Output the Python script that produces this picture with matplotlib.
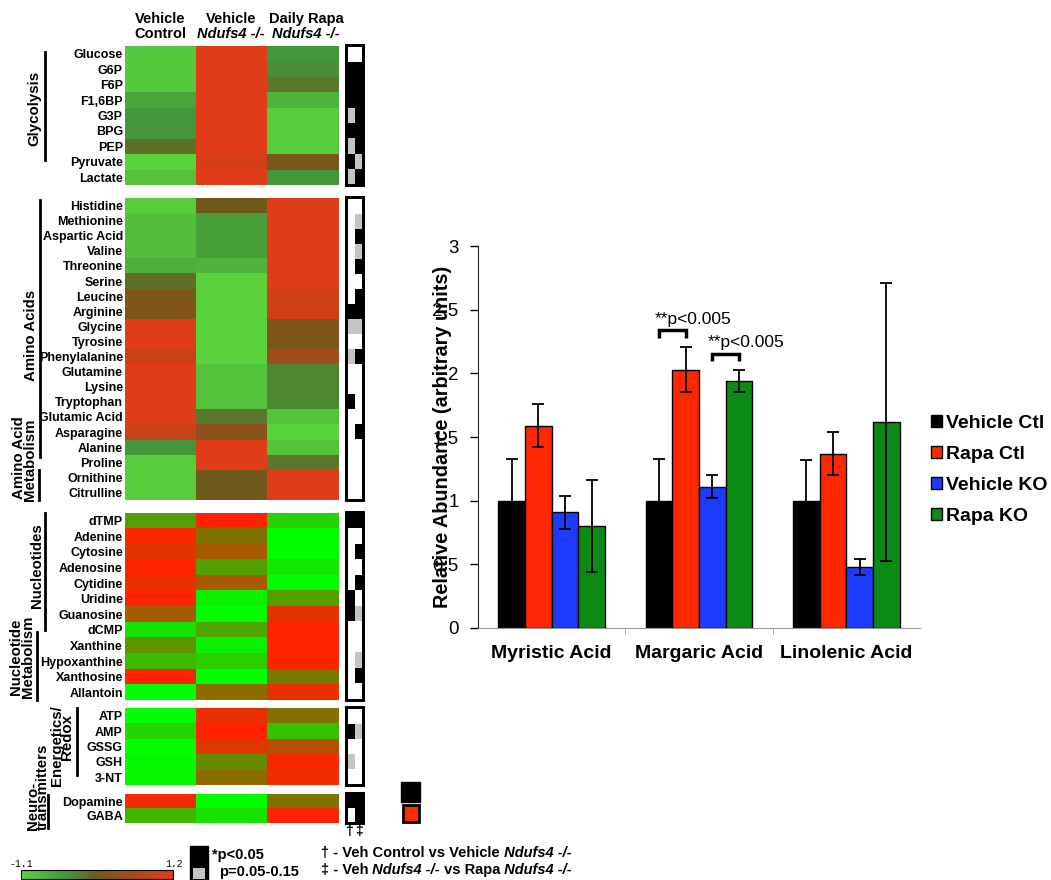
import matplotlib
matplotlib.use('Agg')
import matplotlib.pyplot as plt
import numpy as np
from matplotlib.colors import LinearSegmentedColormap, ListedColormap, Normalize
from matplotlib.cm import ScalarMappable
from matplotlib.patches import Rectangle
from matplotlib.ticker import FuncFormatter

plt.rcParams['font.family'] = ['Liberation Sans', 'DejaVu Sans']

W, H = 1051, 880

# ---- heat map data ----
# columns: Vehicle Control, Vehicle Ndufs4-/-, Daily Rapa Ndufs4-/-
# values: -1 = green (low) ... 0 = mid ... 1 = red (high)
glyc_names = ['Glucose', 'G6P', 'F6P', 'F1,6BP', 'G3P', 'BPG', 'PEP', 'Pyruvate', 'Lactate']
glyc_vals = [[-0.9, 1.0, -0.4], [-0.9, 1.0, -0.35], [-0.9, 1.0, -0.2],
             [-0.55, 1.0, -0.7], [-0.4, 1.0, -0.95], [-0.4, 1.0, -0.95],
             [-0.15, 1.0, -0.95], [-1.0, 0.9, 0.1], [-0.85, 1.0, -0.4]]
# significance: 0 = n.s., 1 = p 0.05-0.15, 2 = p<0.05 ; columns: dagger, double dagger
glyc_sig = [[0, 0], [2, 2], [2, 2], [2, 2], [1, 2], [2, 2], [1, 2], [2, 1], [1, 2]]

amino_names = ['Histidine', 'Methionine', 'Aspartic Acid', 'Valine', 'Threonine', 'Serine',
               'Leucine', 'Arginine', 'Glycine', 'Tyrosine', 'Phenylalanine', 'Glutamine',
               'Lysine', 'Tryptophan', 'Glutamic Acid', 'Asparagine', 'Alanine', 'Proline',
               'Ornithine', 'Citrulline']
amino_vals = [[-0.95, 0.0, 1.0], [-0.8, -0.5, 1.0], [-0.8, -0.5, 1.0], [-0.8, -0.5, 1.0],
              [-0.65, -0.7, 1.0], [-0.15, -1.0, 1.0], [0.15, -1.0, 0.85], [0.15, -1.0, 0.85],
              [1.0, -1.0, 0.15], [1.0, -1.0, 0.1], [0.8, -1.0, 0.45], [1.0, -0.85, -0.3],
              [1.0, -0.85, -0.3], [1.0, -0.85, -0.3], [1.0, -0.2, -0.85], [0.8, 0.25, -1.0],
              [-0.4, 1.0, -0.85], [-0.95, 1.0, -0.2], [-0.95, 0.0, 1.0], [-0.95, 0.0, 1.0]]
amino_sig = [[0, 0], [0, 1], [0, 2], [0, 1], [0, 2], [0, 0], [0, 2], [2, 2], [1, 1], [0, 0],
             [1, 2], [0, 0], [0, 0], [2, 0], [0, 0], [0, 2], [0, 0], [0, 0], [0, 0], [0, 0]]

nuc_names = ['dTMP', 'Adenine', 'Cytosine', 'Adenosine', 'Cytidine', 'Uridine', 'Guanosine',
             'dCMP', 'Xanthine', 'Hypoxanthine', 'Xanthosine', 'Allantoin']
nuc_vals = [[-0.3, 1.0, -0.67], [0.95, 0.05, -1.0], [0.8, 0.35, -1.0], [1.0, -0.3, -0.85],
            [0.85, 0.35, -1.0], [1.0, -0.9, -0.3], [0.3, -1.0, 0.8], [-0.8, -0.35, 1.0],
            [-0.2, -0.9, 1.0], [-0.5, -0.65, 1.0], [1.0, -1.0, 0.0], [-1.0, 0.15, 0.85]]
nuc_sig = [[2, 2], [0, 0], [0, 2], [0, 0], [0, 2], [2, 0], [2, 1], [0, 0], [0, 0], [0, 1],
           [0, 2], [0, 0]]

energ_names = ['ATP', 'AMP', 'GSSG', 'GSH', '3-NT']
energ_vals = [[-1.0, 0.85, 0.1], [-0.7, 1.0, -0.55], [-1.0, 0.75, 0.45],
              [-0.95, -0.15, 0.95], [-0.95, 0.15, 0.9]]
energ_sig = [[0, 0], [2, 1], [0, 0], [1, 0], [0, 0]]

neuro_names = ['Dopamine', 'GABA']
neuro_vals = [[0.9, -1.0, 0.05], [-0.45, -0.8, 1.0]]
neuro_sig = [[2, 2], [0, 2]]

col_line1 = ['Vehicle', 'Vehicle', 'Daily Rapa']
col_line2 = ['Control', 'Ndufs4 -/-', 'Ndufs4 -/-']

# ---- bar chart data ----
acids = ['Myristic Acid', 'Margaric Acid', 'Linolenic Acid']
groups = ['Vehicle Ctl', 'Rapa Ctl', 'Vehicle KO', 'Rapa KO']
veh_ctl = [1.0, 1.0, 1.0]
rapa_ctl = [1.59, 2.03, 1.37]
veh_ko = [0.91, 1.11, 0.48]
rapa_ko = [0.80, 1.94, 1.62]
veh_ctl_err = [0.33, 0.33, 0.32]
rapa_ctl_err = [0.17, 0.18, 0.17]
veh_ko_err = [0.13, 0.09, 0.06]
rapa_ko_err = [0.36, 0.09, 1.09]


def rect(x0, y0, x1, y1):
    # pixel box (top-left origin) -> figure fraction
    return [x0 / W, 1 - y1 / H, (x1 - x0) / W, (y1 - y0) / H]


fig = plt.figure(figsize=(W / 100, H / 100), dpi=100)

# overlay for free text and lines, in pixel coordinates
ov = fig.add_axes([0, 0, 1, 1])
ov.set_xlim(0, W)
ov.set_ylim(H, 0)
ov.axis('off')

top_cmap = LinearSegmentedColormap.from_list(
    'top', [(0.0, '#5AD23C'), (0.3, '#44963A'), (0.5, '#6E5A1C'), (1.0, '#E13C19')])
bot_cmap = LinearSegmentedColormap.from_list('bot', ['#00FF00', '#787800', '#FF2300'])
sig_cmap = ListedColormap(['white', '#C4C4C4', 'black'])
norm = Normalize(-1, 1)

sections = [
    (glyc_names, glyc_vals, glyc_sig, 46, 185, top_cmap),
    (amino_names, amino_vals, amino_sig, 198, 500, top_cmap),
    (nuc_names, nuc_vals, nuc_sig, 513, 700, bot_cmap),
    (energ_names, energ_vals, energ_sig, 708, 785, bot_cmap),
    (neuro_names, neuro_vals, neuro_sig, 794, 823, bot_cmap),
]

for names, vals, sig, y0, y1, cmap in sections:
    n = len(names)
    ax = fig.add_axes(rect(125, y0, 339, y1))
    ax.imshow(np.array(vals), cmap=cmap, norm=norm, aspect='auto', interpolation='nearest')
    ax.set_yticks(range(n))
    ax.set_yticklabels(names, fontsize=9, fontweight='bold')
    ax.set_xticks([])
    ax.tick_params(axis='y', length=0, pad=1.5)
    for s in ax.spines.values():
        s.set_visible(False)

    rowh = (y1 - y0) / n
    p = 2 / rowh
    q = 1 / rowh
    sx = fig.add_axes(rect(345, y0 - 2, 365, y1 + 2))
    sx.add_patch(Rectangle((-0.43, -p), 2.86, n + 2 * p, facecolor='black', zorder=1))
    sx.imshow(np.array(sig), cmap=sig_cmap, vmin=0, vmax=2, extent=(0, 2, n - q, q),
              aspect='auto', interpolation='nearest', zorder=2)
    sx.set_xlim(-0.43, 2.43)
    sx.set_ylim(n + p, -p)
    sx.axis('off')

# column headers
hdr_x = [160, 231, 306]
for x, l1, l2 in zip(hdr_x, col_line1, col_line2):
    ov.text(x, 19, l1, fontsize=10.5, fontweight='bold', ha='center', va='center')
    ov.text(x, 34, l2, fontsize=10.5, fontweight='bold', ha='center', va='center',
            style='normal' if l2 == 'Control' else 'italic')

# group labels and brackets
rot = dict(rotation=90, rotation_mode='anchor', fontweight='bold', fontsize=10.8, va='center')
ov.text(34, 108, 'Glycolysis', ha='center', **rot)
ov.plot([45, 45], [52, 160], color='black', lw=2)
ov.text(31, 335, 'Amino Acids', ha='center', **rot)
ov.plot([40, 40], [200, 457], color='black', lw=2)
ov.text(19, 458, 'Amino Acid', ha='center', **rot)
ov.text(30, 460, 'Metabolism', ha='center', **rot)
ov.plot([39, 39], [470, 500], color='black', lw=2)
ov.text(37, 566, 'Nucleotides', ha='center', **rot)
ov.plot([45, 45], [513, 630], color='black', lw=2)
ov.text(16, 657, 'Nucleotide', ha='center', **rot)
ov.text(28, 657, 'Metabolism', ha='center', **rot)
ov.plot([37, 37], [632, 700], color='black', lw=2)
ov.text(57, 746, 'Energetics/', ha='center', **rot)
ov.text(67.5, 737, 'Redox', ha='center', **rot)
ov.plot([77, 77], [708, 775], color='black', lw=2)
ov.text(33, 830, 'Neuro-', ha='left', **rot)
ov.text(42.5, 830, 'transmitters', ha='left', **rot)
ov.plot([48, 48], [795, 828], color='black', lw=2)

# dagger marks under significance column
ov.text(348.5, 831, '\u2020', fontsize=10, fontweight='bold', ha='center', va='center')
ov.text(358.5, 831, '\u2021', fontsize=10, fontweight='bold', ha='center', va='center')

# small stand-alone squares
ov.add_patch(Rectangle((401, 782), 19, 20, facecolor='black', edgecolor='black'))
ov.add_patch(Rectangle((402.5, 805), 16, 17, facecolor='#FF2A00', edgecolor='black', lw=2))

# significance key
ov.add_patch(Rectangle((190, 846), 18, 34, facecolor='black', edgecolor='black'))
ov.add_patch(Rectangle((193, 868), 12, 11, facecolor='#C4C4C4', edgecolor='none'))
ov.text(212, 855, '*p<0.05', fontsize=10.5, fontweight='bold', ha='left', va='center')
ov.text(219, 872, 'p=0.05-0.15', fontsize=10.5, fontweight='bold', ha='left', va='center')


def rich_line(x, y, parts):
    t = ov.text(x, y, parts[0][0], fontsize=10.5, fontweight='bold', style=parts[0][1],
                ha='left', va='center')
    for s, st in parts[1:]:
        t = ov.annotate(s, xy=(1, 0.5), xycoords=t, fontsize=10.5, fontweight='bold',
                        style=st, ha='left', va='center')


rich_line(321, 853, [('\u2020 - Veh Control vs Vehicle', 'normal'), (' Ndufs4 -/-', 'italic')])
rich_line(321, 870, [('\u2021 - Veh', 'normal'), (' Ndufs4 -/-', 'italic'),
                     (' vs Rapa', 'normal'), (' Ndufs4 -/-', 'italic')])

# colour scale
cax = fig.add_axes(rect(21, 870, 173, 879))
cb = fig.colorbar(ScalarMappable(Normalize(-1.1, 1.2), top_cmap), cax=cax,
                  orientation='horizontal')
cb.set_ticks([])
cb.outline.set_linewidth(0.8)
ov.text(21.5, 864, '-1.1', fontsize=7, family='Liberation Mono', ha='center', va='center')
ov.text(174, 864, '1.2', fontsize=7, family='Liberation Mono', ha='center', va='center')

# ---- bar chart ----
axb = fig.add_axes(rect(478, 246, 920, 628))
x = np.arange(len(acids))
w = 0.181
series = [(veh_ctl, veh_ctl_err, '#000000'), (rapa_ctl, rapa_ctl_err, '#FF2600'),
          (veh_ko, veh_ko_err, '#1E3CFF'), (rapa_ko, rapa_ko_err, '#0C8A16')]
for i, (lab, (vals, errs, col)) in enumerate(zip(groups, series)):
    axb.bar(x + (i - 1.5) * w, vals, w, yerr=errs, color=col, edgecolor='black',
            linewidth=1, label=lab, capsize=4,
            error_kw=dict(elinewidth=1.3, capthick=1.3, ecolor='black'))

# significance brackets in Margaric Acid group
for a, b, rise in [(0, 1, 0.13), (2, 3, 0.125)]:
    xa = x[1] + (a - 1.5) * w
    xb = x[1] + (b - 1.5) * w
    vals_a, err_a = series[a][0][1], series[a][1][1]
    vals_b, err_b = series[b][0][1], series[b][1][1]
    top = max(vals_a + err_a, vals_b + err_b) + rise
    axb.plot([xa, xa, xb, xb], [top - 0.06, top, top, top - 0.06], color='black', lw=2.5,
             solid_joinstyle='miter', solid_capstyle='butt')
    axb.text(xa - 0.03, top + 0.085, '**p<0.005', fontsize=12.5, ha='left', va='center')

axb.set_xlim(-0.5, 2.5)
axb.set_ylim(0, 3)
axb.set_yticks(np.arange(0, 3.01, 0.5))
axb.yaxis.set_major_formatter(FuncFormatter(lambda v, pos: f'{v:g}'))
axb.set_xticks(x)
axb.set_xticklabels(acids, fontsize=14, fontweight='bold')
axb.set_xticks([0.5, 1.5], minor=True)
axb.tick_params(axis='y', direction='out', length=6, width=1, pad=8, labelsize=13.5)
axb.tick_params(axis='x', which='major', length=0, pad=12)
axb.tick_params(axis='x', which='minor', length=4, color='#999999')
axb.spines['top'].set_visible(False)
axb.spines['right'].set_visible(False)
axb.spines['left'].set_color('#222222')
axb.spines['bottom'].set_color('#999999')
axb.set_ylabel('Relative Abundance (arbitrary units)', fontsize=14.3, fontweight='bold')
axb.yaxis.set_label_coords((442 - 478) / 442, 0.5)
axb.yaxis.label.set_verticalalignment('center')

axb.legend(loc='center left', bbox_to_anchor=(931 / W, 1 - 470 / H),
           bbox_transform=fig.transFigure, frameon=False,
           prop=dict(weight='bold', size=14), handlelength=0.55, handleheight=0.55,
           handletextpad=0.2, labelspacing=0.72, borderpad=0, borderaxespad=0)

fig.savefig('out.png', dpi=100)
